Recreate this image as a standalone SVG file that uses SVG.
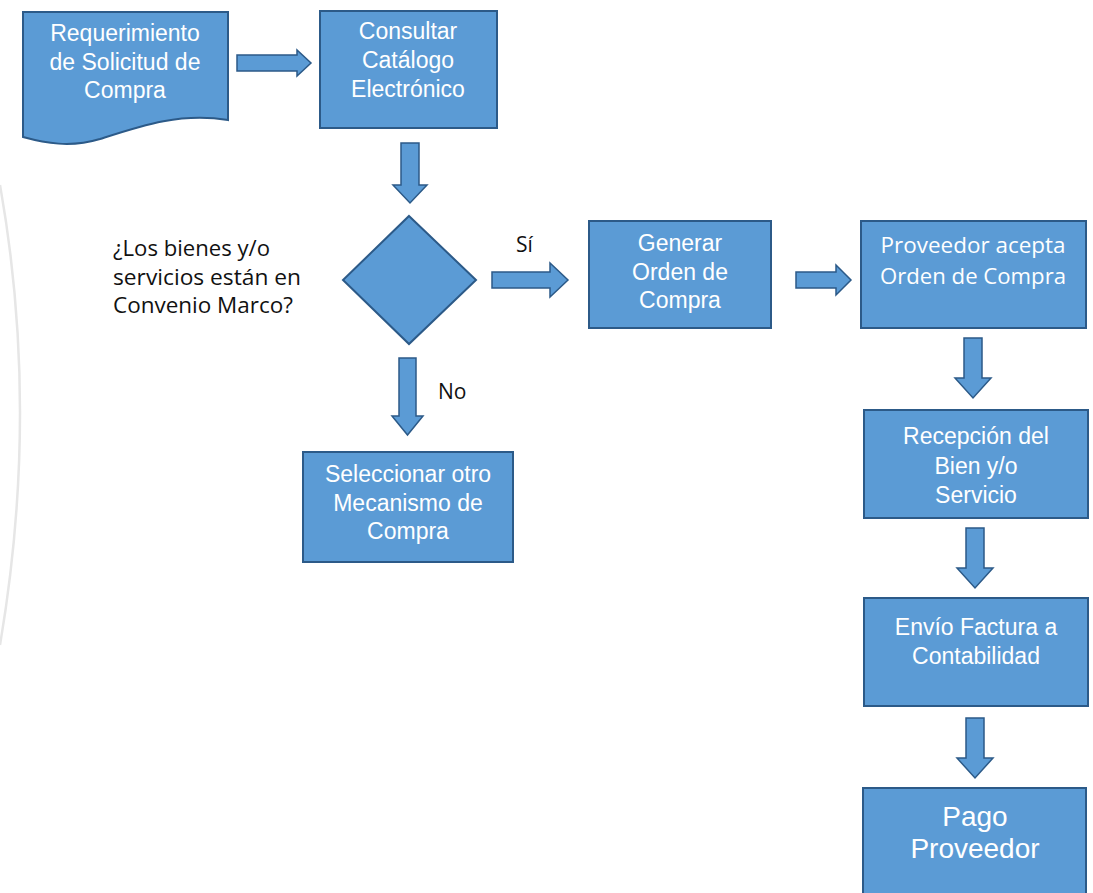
<svg xmlns="http://www.w3.org/2000/svg" width="1093" height="893" viewBox="0 0 1093 893">
<style>
.box{fill:#5b9bd5;stroke:#2c5a88;stroke-width:2}
.arr{fill:#5b9bd5;stroke:#2c5a88;stroke-width:1.5;stroke-linejoin:miter}
.t{font-family:"Liberation Sans",Arial,sans-serif;font-size:23px;fill:#ffffff;text-anchor:middle}
.t2{font-family:"Open Sans","Liberation Sans",sans-serif;font-size:21px;font-weight:500;fill:#ffffff;text-anchor:middle}
.q{font-family:"Open Sans","Liberation Sans",sans-serif;font-size:21px;font-weight:500;fill:#111111}
.lbl{font-family:"Open Sans","Liberation Sans",sans-serif;font-size:21px;font-weight:500;fill:#111111}
</style>
<rect width="1093" height="893" fill="#ffffff"/>
<path d="M0,185 Q40,410 0,645" fill="none" stroke="#e6e6e6" stroke-width="2.5"/>
<g id="connectors">
  <path class="arr" d="M237,55 H297 V50 L311,63 L297,76 V71 H237 Z"/>
  <path class="arr" d="M401,143 H419 V185 H427 L410,203 L393,185 H401 Z"/>
  <path class="arr" d="M492,272 H550 V263 L568,280 L550,297 V288 H492 Z"/>
  <path class="arr" d="M796,272 H836 V265 L851,280 L836,295 V288 H796 Z"/>
  <path class="arr" d="M399,358 H416 V416 H423 L407.5,435 L392,416 H399 Z"/>
  <path class="arr" d="M964,338 H982 V378 H991 L973,398 L955,378 H964 Z"/>
  <path class="arr" d="M966,528 H984 V568 H993 L975,588 L957,568 H966 Z"/>
  <path class="arr" d="M966,718 H984 V758 H993 L975,778 L957,758 H966 Z"/>
</g>
<g id="n1">
  <path class="box" d="M23,12 H228 V120 C180,112 140,126 100,139 C70,148 45,143 23,137 Z"/>
  <text class="t" x="125" y="41">Requerimiento</text>
  <text class="t" x="125" y="70">de Solicitud de</text>
  <text class="t" x="125" y="98">Compra</text>
</g>
<g id="n2">
  <rect class="box" x="320" y="11" width="177" height="117"/>
  <text class="t" x="408" y="39">Consultar</text>
  <text class="t" x="408" y="68">Catálogo</text>
  <text class="t" x="408" y="97">Electrónico</text>
</g>
<g id="n3">
  <path class="box" d="M409,216 L476,280 L409,344 L343,280 Z"/>
  <text class="q" x="113" y="256" textLength="157" lengthAdjust="spacingAndGlyphs">¿Los bienes y/o</text>
  <text class="q" x="113" y="285" textLength="188" lengthAdjust="spacingAndGlyphs">servicios están en</text>
  <text class="q" x="113" y="313" textLength="180" lengthAdjust="spacingAndGlyphs">Convenio Marco?</text>
</g>
<text class="lbl" x="516" y="252">Sí</text>
<text class="lbl" x="438" y="399">No</text>
<g id="n4">
  <rect class="box" x="589" y="221" width="182" height="107"/>
  <text class="t" x="680" y="251">Generar</text>
  <text class="t" x="680" y="280">Orden de</text>
  <text class="t" x="680" y="308">Compra</text>
</g>
<g id="n5">
  <rect class="box" x="861" y="221" width="225" height="107"/>
  <text class="t2" x="973" y="253" textLength="185" lengthAdjust="spacingAndGlyphs">Proveedor acepta</text>
  <text class="t2" x="973" y="284" textLength="186" lengthAdjust="spacingAndGlyphs">Orden de Compra</text>
</g>
<g id="n6">
  <rect class="box" x="303" y="452" width="210" height="110"/>
  <text class="t" x="408" y="482">Seleccionar otro</text>
  <text class="t" x="408" y="511">Mecanismo de</text>
  <text class="t" x="408" y="539">Compra</text>
</g>
<g id="n7">
  <rect class="box" x="864" y="410" width="224" height="108"/>
  <text class="t" x="976" y="444">Recepción del</text>
  <text class="t" x="976" y="474">Bien y/o</text>
  <text class="t" x="976" y="503">Servicio</text>
</g>
<g id="n8">
  <rect class="box" x="864" y="598" width="224" height="108"/>
  <text class="t" x="976" y="635">Envío Factura a</text>
  <text class="t" x="976" y="664">Contabilidad</text>
</g>
<g id="n9">
  <rect class="box" x="863" y="788" width="223" height="110"/>
  <text class="t" x="975" y="826" style="font-size:28px">Pago</text>
  <text class="t" x="975" y="858" style="font-size:28px">Proveedor</text>
</g>
</svg>
